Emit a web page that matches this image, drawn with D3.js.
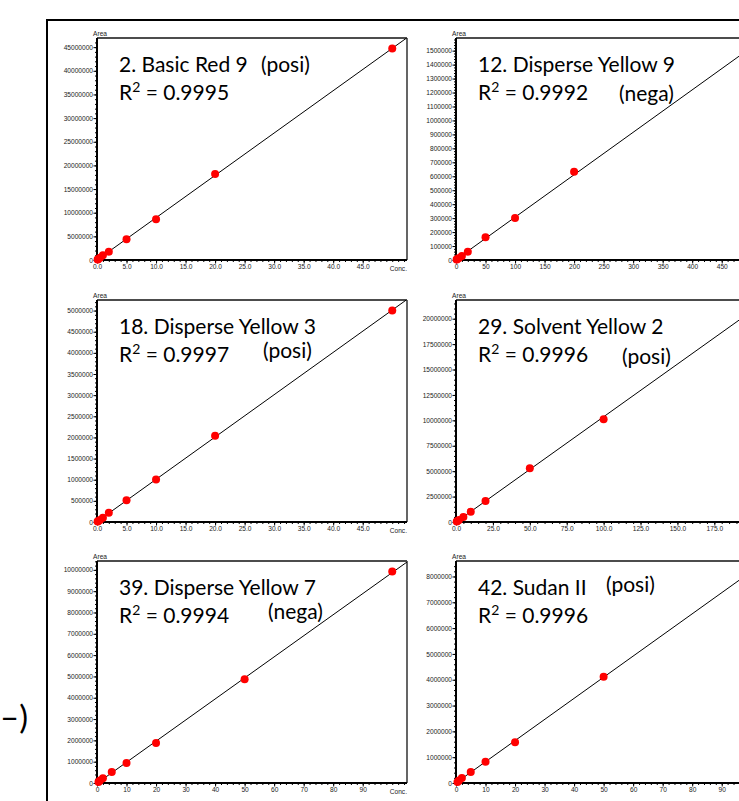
<!DOCTYPE html>
<html>
<head>
<meta charset="utf-8">
<script src="https://cdn.jsdelivr.net/npm/d3@7/dist/d3.min.js"></script>
<style>
  body { margin: 0; background: #fff; }
  svg { display: block; }
  .tick text, .cap { font-family: "Liberation Sans", Arial, sans-serif; font-size: 6.6px; fill: #222; }
  .title { font-family: Lato, "Open Sans", sans-serif; font-size: 21px; fill: #000; }
</style>
</head>
<body>
<div id="chart"></div>
<script>
// calibration curves (conc. vs. peak area)
const titles = ["2. Basic Red 9", "12. Disperse Yellow 9", "18. Disperse Yellow 3",
                "29. Solvent Yellow 2", "39. Disperse Yellow 7", "42. Sudan II"];
const r2Values = ["0.9995", "0.9992", "0.9997", "0.9996", "0.9994", "0.9996"];
const modes = ["(posi)", "(nega)", "(posi)", "(posi)", "(nega)", "(posi)"];

const conc1 = [0.1, 0.2, 0.5, 1, 2, 5, 10, 20, 50];
const area1 = [0.09e6, 0.18e6, 0.45e6, 1.0e6, 1.76e6, 4.4e6, 8.6e6, 18.2e6, 44.7e6];
const conc2 = [1, 2, 5, 10, 20, 50, 100, 200, 500];
const area2 = [3e3, 6e3, 15e3, 29e3, 59.5e3, 163e3, 301e3, 633e3, 1515e3];
const conc3 = [0.1, 0.2, 0.5, 1, 2, 5, 10, 20, 50];
const area3 = [0.01e6, 0.02e6, 0.05e6, 0.1e6, 0.22e6, 0.515e6, 1.006e6, 2.04e6, 5.0e6];
const conc4 = [0.5, 1, 2, 5, 10, 20, 50, 100, 200];
const area4 = [0.05e6, 0.1e6, 0.2e6, 0.5e6, 1.02e6, 2.07e6, 5.29e6, 10.12e6, 20.8e6];
const conc5 = [0.5, 1, 2, 5, 10, 20, 50, 100];
const area5 = [0.05e6, 0.12e6, 0.22e6, 0.52e6, 0.94e6, 1.88e6, 4.87e6, 9.92e6];
const conc6 = [0.5, 1, 2, 5, 10, 20, 50, 100];
const area6 = [0.04e6, 0.1e6, 0.19e6, 0.43e6, 0.82e6, 1.58e6, 4.12e6, 8.19e6];

// axis tick steps and label formats
const yStep = [5e6, 1e5, 5e5, 2.5e6, 1e6, 1e6];
const xStep = [5, 50, 5, 25, 10, 10];
const xFmt = [".1f", "d", ".1f", ".1f", "d", "d"];

const concs = [conc1, conc2, conc3, conc4, conc5, conc6];
const areas = [area1, area2, area3, area4, area5, area6];

// layout
const W = 739, H = 801;
const plotW = 310, plotH = 222;
const colX = [97, 456];
const rowY = [38, 300, 561];
// where the (posi)/(nega) tag sits inside each plot
const modePos = [[164, 34], [163, 63], [166, 58], [166, 64], [171, 58], [150, 31]];

const svg = d3.select("#chart").append("svg")
    .attr("width", W)
    .attr("height", H);

// slide frame
svg.append("path")
    .attr("d", `M47,${H}V20H${W}`)
    .attr("fill", "none")
    .attr("stroke", "#000")
    .attr("stroke-width", 2);

// leftover of the text on the left of the slide
svg.append("text")
    .attr("x", 28)
    .attr("y", 729)
    .attr("text-anchor", "end")
    .style("font-family", "Lato, sans-serif")
    .style("font-size", "33px")
    .text("\u2013)");

function fit(xs, ys) {
    const mx = d3.mean(xs), my = d3.mean(ys);
    let sxy = 0, sxx = 0;
    xs.forEach((v, k) => { sxy += (v - mx) * (ys[k] - my); sxx += (v - mx) * (v - mx); });
    const b = sxy / sxx;
    return { a: my - b * mx, b: b };
}

titles.forEach((title, i) => {
    const left = colX[i % 2], top = rowY[Math.floor(i / 2)];
    const xs = concs[i], ys = areas[i];
    const g = svg.append("g").attr("transform", `translate(${left},${top})`);

    const xMax = d3.max(xs) * 1.05, yMax = d3.max(ys) * 1.05;
    const x = d3.scaleLinear().domain([0, xMax]).range([0, plotW]);
    const y = d3.scaleLinear().domain([0, yMax]).range([plotH, 0]);

    // plot frame (top / right)
    g.append("path")
        .attr("d", `M0,0H${plotW}`)
        .attr("fill", "none")
        .attr("stroke", "#111")
        .attr("stroke-width", 1.3);
    g.append("path")
        .attr("d", `M${plotW},0V${plotH}`)
        .attr("fill", "none")
        .attr("stroke", "#555")
        .attr("stroke-width", 1.8);

    // y axis: minor then major
    const yMajor = d3.range(0, yMax + 1, yStep[i]);
    const yMinor = d3.range(0, yMax, yStep[i] / 5);
    g.append("g")
        .call(d3.axisLeft(y).tickValues(yMinor).tickSize(2).tickSizeOuter(0).tickFormat(""))
        .call(a => a.select(".domain").remove());
    const yAx = g.append("g")
        .call(d3.axisLeft(y).tickValues(yMajor).tickSize(3.5).tickSizeOuter(0)
            .tickPadding(0.5).tickFormat(d3.format("d")));
    yAx.select(".domain").attr("stroke-width", 2).attr("d", `M0,0V${plotH}`);

    // x axis
    const xMajor = d3.range(0, xMax, xStep[i]).filter(v => x(v) < plotW - 18);
    const xMinor = d3.range(0, xMax, xStep[i] / 5);
    g.append("g")
        .attr("transform", `translate(0,${plotH})`)
        .call(d3.axisBottom(x).tickValues(xMinor).tickSize(2).tickSizeOuter(0).tickFormat(""))
        .call(a => a.select(".domain").remove());
    const xAx = g.append("g")
        .attr("transform", `translate(0,${plotH})`)
        .call(d3.axisBottom(x).tickValues(xMajor).tickSize(3.5).tickSizeOuter(0)
            .tickPadding(1).tickFormat(d3.format(xFmt[i])));
    xAx.select(".domain").attr("stroke-width", 2).attr("d", `M0,0H${plotW}`);

    // axis captions
    g.append("text").attr("class", "cap")
        .attr("x", 3).attr("y", -2)
        .attr("text-anchor", "middle")
        .text("Area");
    if (left + plotW <= W) {
        g.append("text").attr("class", "cap")
            .attr("x", plotW).attr("y", plotH + 11)
            .attr("text-anchor", "end")
            .text("Conc.");
    }

    // regression line
    const clipId = "clip" + i;
    g.append("clipPath").attr("id", clipId)
        .append("rect").attr("width", plotW).attr("height", plotH);
    const f = fit(xs, ys);
    g.append("path")
        .datum([0, xMax])
        .attr("clip-path", `url(#${clipId})`)
        .attr("fill", "none")
        .attr("stroke", "#000")
        .attr("stroke-width", 1)
        .attr("d", d3.line().x(d => x(d)).y(d => y(f.a + f.b * d)));

    // points
    g.selectAll("circle.pt")
        .data(xs.map((v, k) => [v, ys[k]]))
        .join("circle")
        .attr("class", "pt")
        .attr("cx", d => x(d[0]))
        .attr("cy", d => y(d[1]))
        .attr("r", 4)
        .attr("fill", "#ff0000");

    // labels
    g.append("text").attr("class", "title")
        .attr("x", 22).attr("y", 34)
        .text(title);
    const r2 = g.append("text").attr("class", "title")
        .attr("x", 22).attr("y", 62);
    r2.append("tspan").text("R");
    r2.append("tspan").attr("dy", -8).style("font-size", "14px").text("2");
    r2.append("tspan").attr("dy", 8).text(" = " + r2Values[i]);
    g.append("text").attr("class", "title")
        .attr("x", modePos[i][0]).attr("y", modePos[i][1])
        .text(modes[i]);
});
</script>
</body>
</html>
